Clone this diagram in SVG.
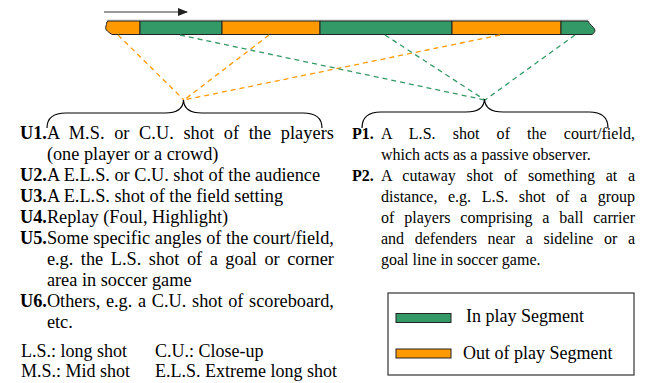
<svg xmlns="http://www.w3.org/2000/svg" width="660" height="383" viewBox="0 0 660 383">
<style>
text{font-family:"Liberation Serif","Times New Roman",serif;font-size:18.3px;fill:#000}
.b{font-weight:bold}
.r{font-size:16px}
.lg{font-size:18px}
.og{fill:#FF9900}
.gr{fill:#339966}
.seg{stroke:#222;stroke-width:1}
.dO{stroke:#FF9900;stroke-width:1.3;stroke-dasharray:5 4;fill:none}
.dG{stroke:#339966;stroke-width:1.3;stroke-dasharray:5 4;fill:none}
.brace{fill:none;stroke:#000;stroke-width:1.2}
</style>
<defs>
<marker id="ah" markerWidth="10" markerHeight="8" refX="9" refY="4" orient="auto" markerUnits="userSpaceOnUse">
<path d="M0,0 L10,4 L0,8 z" fill="#222"/>
</marker>
</defs>
<g id="arrow">
<line x1="104" y1="12" x2="187" y2="12" stroke="#333" stroke-width="1.2" marker-end="url(#ah)"/>
</g>
<g id="bar">
<path d="M108,21 L140,21 L140,34.5 L112,34.5 C110,33 104,30 106,26 C107,24 106,22 108,21 z" class="og seg"/>
<rect x="140" y="21" width="82" height="13.5" class="gr seg"/>
<rect x="222" y="21" width="98" height="13.5" class="og seg"/>
<rect x="320" y="21" width="132" height="13.5" class="gr seg"/>
<rect x="452" y="21" width="109" height="13.5" class="og seg"/>
<path d="M561,21 L588,21 C589,24 594,27 595,30 C595,32 593,34 592,34.5 L561,34.5 z" class="gr seg"/>
<line x1="107" y1="20.3" x2="588" y2="20.3" stroke="#777" stroke-width="0.8"/>
</g>
<g id="connectors">
<line x1="118" y1="35" x2="184" y2="100" class="dO"/>
<line x1="269" y1="35" x2="184" y2="100" class="dO"/>
<line x1="500" y1="35" x2="184" y2="100" class="dO"/>
<line x1="180" y1="35" x2="485" y2="100" class="dG"/>
<line x1="385" y1="35" x2="485" y2="100" class="dG"/>
<line x1="575" y1="35" x2="485" y2="100" class="dG" stroke-dasharray="3 3" stroke-width="1"/>
</g>
<g id="brace-U">
<path d="M47,128 Q47,113 66,113 L165,113 Q183,113 183.5,100 Q184,113 202,113 L303,113 Q322,113 322,128" class="brace"/>
</g>
<g id="brace-P">
<path d="M362,128 Q362,112 381,112 L466,112 Q484,112 484.5,99 Q485,112 503,112 L589,112 Q608,112 608,128" class="brace"/>
</g>
<g id="u-list">
<text x="20" y="138.5" class="b">U1.</text>
<text x="46.9" y="138.5" textLength="287" lengthAdjust="spacing" word-spacing="5">A M.S. or C.U. shot of the players</text>
<text x="46.9" y="159.5">(one player or a crowd)</text>
<text x="20" y="180.5"><tspan class="b">U2.</tspan>A E.L.S. or C.U. shot of the audience</text>
<text x="20" y="201.5"><tspan class="b">U3.</tspan>A E.L.S. shot of the field setting</text>
<text x="20" y="222.5"><tspan class="b">U4.</tspan>Replay (Foul, Highlight)</text>
<text x="20" y="243.5" class="b">U5.</text>
<text x="46.9" y="243.5" textLength="287" lengthAdjust="spacing">Some specific angles of the court/field,</text>
<text x="46.9" y="264.5" textLength="287" lengthAdjust="spacing" word-spacing="3">e.g. the L.S. shot of a goal or corner</text>
<text x="46.9" y="285.5">area in soccer game</text>
<text x="20" y="306.5" class="b">U6.</text>
<text x="46.9" y="306.5" textLength="287" lengthAdjust="spacing" word-spacing="1.1">Others, e.g. a C.U. shot of scoreboard,</text>
<text x="46.9" y="327.5">etc.</text>
</g>
<g id="abbrev">
<text x="21" y="357" class="lg">L.S.: long shot</text>
<text x="155" y="357" class="lg">C.U.: Close-up</text>
<text x="21" y="377" class="lg">M.S.: Mid shot</text>
<text x="155" y="377" class="lg">E.L.S. Extreme long shot</text>
</g>
<g id="p-list">
<text x="352" y="138.5" class="b r">P1.</text>
<text x="381" y="138.5" class="r" textLength="254" lengthAdjust="spacing" word-spacing="13">A L.S. shot of the court/field,</text>
<text x="381" y="159.5" class="r">which acts as a passive observer.</text>
<text x="352" y="180.5" class="b r">P2.</text>
<text x="381" y="180.5" class="r" textLength="254" lengthAdjust="spacing" word-spacing="6.6">A cutaway shot of something at a</text>
<text x="381" y="201.5" class="r" textLength="254" lengthAdjust="spacing" word-spacing="6.6">distance, e.g. L.S. shot of a group</text>
<text x="381" y="222.5" class="r" textLength="254" lengthAdjust="spacing" word-spacing="5.9">of players comprising a ball carrier</text>
<text x="381" y="243.5" class="r" textLength="254" lengthAdjust="spacing" word-spacing="6.6">and defenders near a sideline or a</text>
<text x="381" y="264.5" class="r">goal line in soccer game.</text>
</g>
<g id="legend">
<rect x="388" y="293" width="246" height="82" fill="#fff" stroke="#333" stroke-width="1.2"/>
<rect x="396" y="313.5" width="55" height="9" class="gr seg"/>
<text x="466" y="322" class="lg">In play Segment</text>
<rect x="396" y="349" width="55" height="9" class="og seg"/>
<text x="463" y="359" class="lg">Out of play Segment</text>
</g>
</svg>
